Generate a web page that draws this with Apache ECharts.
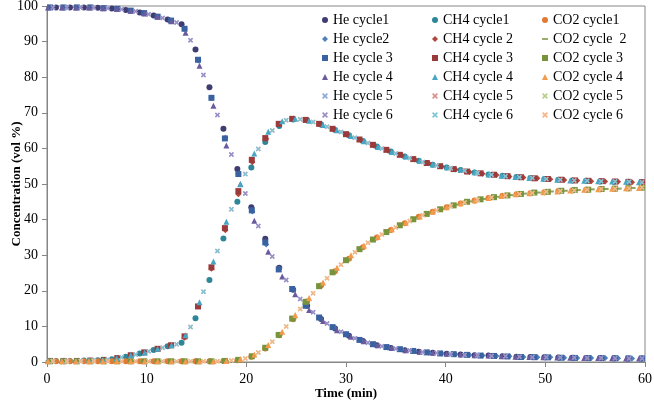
<!DOCTYPE html>
<html>
<head>
<meta charset="utf-8">
<script src="https://cdn.jsdelivr.net/npm/echarts@6/dist/echarts.min.js"></script>
<style>
  html, body { margin: 0; padding: 0; background: #fff; }
  #chart { width: 654px; height: 402px; }
</style>
</head>
<body>
<div id="chart"></div>
<script>
// sampling times (min) for each cycle
const timeCycle1 = [0.9, 2.3, 3.7, 5.1, 6.5, 7.9, 9.3, 10.7, 12.1, 13.5, 14.9, 16.3, 17.7, 19.1, 20.5, 21.9, 23.3, 24.7, 26.1, 27.5, 28.9, 30.3, 31.7, 33.1, 34.5, 35.9, 37.3, 38.7, 40.1, 41.5, 42.9, 44.3, 45.7, 47.1, 48.5, 49.9, 51.3, 52.7, 54.1, 55.5, 56.9, 58.3, 59.7];
const timeCycle2 = [0.2, 1.6, 2.9, 4.3, 5.6, 7.0, 8.4, 9.7, 11.1, 12.4, 13.8, 15.2, 16.5, 17.9, 19.2, 20.6, 22.0, 23.3, 24.7, 26.0, 27.4, 28.8, 30.1, 31.5, 32.8, 34.2, 35.6, 36.9, 38.3, 39.6, 41.0, 42.4, 43.7, 45.1, 46.4, 47.8, 49.2, 50.5, 51.9, 53.2, 54.6, 56.0, 57.3, 58.7];
const timeCycle3 = [0.3, 1.65, 3.0, 4.35, 5.7, 7.05, 8.4, 9.75, 11.1, 12.45, 13.8, 15.15, 16.5, 17.85, 19.2, 20.55, 21.9, 23.25, 24.6, 25.95, 27.3, 28.65, 30.0, 31.35, 32.7, 34.05, 35.4, 36.75, 38.1, 39.45, 40.8, 42.15, 43.5, 44.85, 46.2, 47.55, 48.9, 50.25, 51.6, 52.95, 54.3, 55.65, 57.0, 58.35, 59.7];
const timeCycle4 = [0.1, 1.5, 2.9, 4.2, 5.6, 7.0, 8.4, 9.8, 11.1, 12.5, 13.9, 15.3, 16.7, 18.0, 19.4, 20.8, 22.2, 23.6, 24.9, 26.3, 27.7, 29.1, 30.5, 31.8, 33.2, 34.6, 36.0, 37.4, 38.7, 40.1, 41.5, 42.9, 44.3, 45.6, 47.0, 48.4, 49.8, 51.2, 52.5, 53.9, 55.3, 56.7, 58.1, 59.4];
const timeCycle56 = [0.6, 2.0, 3.4, 4.7, 6.1, 7.5, 8.9, 10.2, 11.6, 13.0, 14.4, 15.7, 17.1, 18.5, 19.9, 21.2, 22.6, 24.0, 25.4, 26.7, 28.1, 29.5, 30.9, 32.2, 33.6, 35.0, 36.4, 37.7, 39.1, 40.5, 41.9, 43.2, 44.6, 46.0, 47.4, 48.7, 50.1, 51.5, 52.9, 54.2, 55.6, 57.0, 58.4, 59.7];

// He (vol %)
const heCycle1 = [99.6, 99.6, 99.6, 99.5, 99.3, 98.9, 98.2, 97.3, 96.2, 94.9, 87.8, 77.2, 65.5, 54.2, 43.5, 34.6, 26.5, 20.3, 15.8, 12.1, 9.4, 7.4, 5.9, 4.7, 3.9, 3.3, 2.9, 2.6, 2.3, 2.1, 1.9, 1.8, 1.6, 1.5, 1.4, 1.3, 1.25, 1.2, 1.15, 1.1, 1.05, 1.0, 1.0];
const heCycle2 = [99.6, 99.6, 99.6, 99.6, 99.4, 99.2, 98.7, 98.0, 97.0, 95.9, 93.6, 84.7, 74.2, 63.0, 52.8, 42.3, 33.0, 26.2, 20.2, 15.9, 12.3, 9.6, 7.7, 6.1, 5.0, 4.1, 3.5, 3.0, 2.6, 2.4, 2.2, 2.0, 1.8, 1.7, 1.6, 1.4, 1.35, 1.3, 1.2, 1.15, 1.1, 1.1, 1.05, 1.0];
const heCycle3 = [99.6, 99.6, 99.6, 99.6, 99.4, 99.2, 98.7, 98.0, 97.0, 95.9, 93.6, 84.9, 74.2, 62.8, 52.8, 42.6, 33.6, 26.0, 20.5, 15.8, 12.5, 9.8, 7.8, 6.2, 5.0, 4.2, 3.6, 3.1, 2.7, 2.4, 2.2, 2.0, 1.8, 1.7, 1.55, 1.4, 1.35, 1.3, 1.2, 1.15, 1.1, 1.1, 1.05, 1.0, 1.0];
const heCycle4 = [99.6, 99.6, 99.6, 99.6, 99.4, 99.2, 98.7, 97.9, 97.0, 95.7, 92.5, 83.2, 72.0, 60.8, 50.0, 39.7, 31.0, 24.0, 19.0, 14.6, 11.5, 8.9, 7.1, 5.8, 4.7, 3.9, 3.3, 2.9, 2.6, 2.3, 2.1, 1.9, 1.8, 1.6, 1.5, 1.4, 1.3, 1.25, 1.2, 1.15, 1.1, 1.05, 1.0, 1.0];
const heCycle56 = [99.6, 99.6, 99.6, 99.5, 99.4, 99.1, 98.5, 97.7, 96.6, 95.4, 90.4, 80.6, 69.4, 58.3, 47.3, 38.2, 29.6, 23.0, 17.7, 14.0, 10.8, 8.5, 6.7, 5.4, 4.4, 3.7, 3.2, 2.8, 2.5, 2.2, 2.0, 1.9, 1.7, 1.6, 1.45, 1.35, 1.3, 1.25, 1.2, 1.15, 1.1, 1.05, 1.0, 1.0];

// CH4 (vol %)
const ch4Cycle1 = [0.3, 0.3, 0.4, 0.5, 0.8, 1.5, 2.4, 3.4, 4.4, 5.4, 12.3, 23.0, 34.7, 45.0, 54.6, 61.8, 66.3, 68.1, 67.9, 66.7, 65.2, 63.7, 62.1, 60.5, 59.1, 57.7, 56.5, 55.4, 54.6, 53.9, 53.2, 52.7, 52.3, 52.0, 51.7, 51.4, 51.2, 51.0, 50.9, 50.7, 50.6, 50.6, 50.5];
const ch4Cycle2 = [0.3, 0.3, 0.3, 0.4, 0.6, 1.0, 1.8, 2.6, 3.7, 4.6, 6.8, 15.7, 26.2, 37.0, 47.1, 56.1, 62.7, 66.8, 68.3, 67.9, 66.7, 65.3, 63.9, 62.3, 60.8, 59.4, 58.1, 56.9, 55.8, 54.9, 54.1, 53.4, 52.9, 52.5, 52.1, 51.8, 51.6, 51.3, 51.1, 51.0, 50.8, 50.7, 50.6, 50.5];
const ch4Cycle3 = [0.3, 0.3, 0.3, 0.4, 0.6, 1.1, 1.9, 2.7, 3.7, 4.7, 7.2, 15.6, 26.6, 37.6, 48.0, 56.8, 62.9, 66.9, 68.3, 68.0, 66.9, 65.5, 64.0, 62.5, 61.0, 59.6, 58.2, 57.0, 55.9, 55.0, 54.2, 53.5, 53.0, 52.6, 52.2, 51.9, 51.6, 51.4, 51.2, 51.0, 50.9, 50.8, 50.7, 50.6, 50.5];
const ch4Cycle4 = [0.3, 0.3, 0.3, 0.4, 0.6, 1.1, 1.9, 2.7, 3.7, 4.7, 7.5, 16.8, 28.2, 39.4, 49.9, 58.6, 64.7, 67.6, 68.3, 67.8, 66.6, 65.1, 63.5, 62.0, 60.4, 59.0, 57.7, 56.5, 55.5, 54.7, 53.9, 53.3, 52.7, 52.3, 52.0, 51.7, 51.5, 51.2, 51.0, 50.9, 50.8, 50.7, 50.6, 50.5];
const ch4Cycle56 = [0.3, 0.3, 0.3, 0.5, 0.7, 1.3, 2.1, 3.0, 4.0, 5.0, 9.8, 19.7, 31.2, 42.9, 52.8, 59.8, 65.0, 67.9, 68.2, 67.4, 66.1, 64.6, 63.0, 61.5, 60.0, 58.6, 57.3, 56.2, 55.2, 54.4, 53.7, 53.1, 52.6, 52.2, 51.9, 51.7, 51.4, 51.2, 51.0, 50.9, 50.8, 50.7, 50.6, 50.5];

// CO2 (vol %)
const co2Cycle1 = [0.2, 0.2, 0.2, 0.2, 0.2, 0.2, 0.2, 0.2, 0.2, 0.2, 0.2, 0.2, 0.3, 0.5, 1.5, 3.8, 7.5, 12.0, 17.0, 21.5, 25.5, 29.0, 32.2, 35.0, 37.1, 39.0, 40.8, 42.2, 43.5, 44.5, 45.4, 46.1, 46.7, 47.1, 47.4, 47.7, 48.0, 48.2, 48.4, 48.5, 48.7, 48.8, 49.0];
const co2Cycle2 = [0.2, 0.2, 0.2, 0.2, 0.2, 0.2, 0.2, 0.2, 0.2, 0.2, 0.2, 0.2, 0.2, 0.3, 0.6, 1.6, 4.2, 7.7, 12.4, 17.0, 21.4, 25.5, 28.8, 32.0, 34.5, 36.7, 38.6, 40.3, 41.8, 43.0, 44.2, 45.1, 45.8, 46.4, 46.9, 47.3, 47.6, 47.9, 48.1, 48.3, 48.5, 48.6, 48.7, 48.9];
const co2Cycle3 = [0.2, 0.2, 0.2, 0.2, 0.2, 0.2, 0.2, 0.2, 0.2, 0.2, 0.2, 0.2, 0.2, 0.3, 0.6, 1.6, 4.0, 7.6, 12.2, 16.9, 21.3, 25.2, 28.6, 31.7, 34.4, 36.5, 38.4, 40.1, 41.6, 42.9, 44.0, 45.0, 45.7, 46.3, 46.8, 47.2, 47.6, 47.8, 48.1, 48.3, 48.4, 48.6, 48.7, 48.8, 49.0];
const co2Cycle4 = [0.2, 0.2, 0.2, 0.2, 0.2, 0.2, 0.2, 0.2, 0.2, 0.2, 0.2, 0.2, 0.2, 0.3, 0.8, 2.1, 4.8, 8.5, 13.2, 18.0, 22.3, 26.5, 30.0, 32.7, 35.2, 37.3, 39.1, 40.9, 42.2, 43.5, 44.6, 45.4, 46.1, 46.6, 47.1, 47.4, 47.7, 47.9, 48.2, 48.4, 48.5, 48.7, 48.8, 48.9];
const co2Cycle56 = [0.2, 0.2, 0.2, 0.2, 0.2, 0.2, 0.2, 0.2, 0.2, 0.2, 0.2, 0.2, 0.2, 0.4, 1.0, 2.7, 5.7, 10.0, 14.9, 19.3, 23.5, 27.3, 30.8, 33.5, 35.8, 37.8, 39.6, 41.2, 42.6, 43.8, 44.8, 45.6, 46.2, 46.8, 47.2, 47.5, 47.8, 48.0, 48.2, 48.4, 48.6, 48.7, 48.8, 49.0];

const xTicks = [0, 10, 20, 30, 40, 50, 60];
const yTicks = [0, 10, 20, 30, 40, 50, 60, 70, 80, 90, 100];

const FONT = 'Liberation Serif';
const CROSS = 'path://M0,2L2,0L5,3L8,0L10,2L7,5L10,8L8,10L5,7L2,10L0,8L3,5Z';
const DASH = 'path://M0,0H10V3H0Z';

function makeSeries(name, times, values, symbol, size, color) {
  return {
    name: name,
    type: 'scatter',
    symbol: symbol,
    symbolSize: size,
    itemStyle: { color: color, opacity: 1 },
    data: times.map((t, i) => [t, values[i]]),
    animation: false
  };
}

const series = [
  makeSeries('He cycle1', timeCycle1, heCycle1, 'circle', 6, '#3f3c72'),
  makeSeries('CH4 cycle1', timeCycle1, ch4Cycle1, 'circle', 6, '#2e8799'),
  makeSeries('CO2 cycle1', timeCycle1, co2Cycle1, 'circle', 6, '#e07a35'),
  makeSeries('He cycle2', timeCycle2, heCycle2, 'diamond', 6, '#4f81bd'),
  makeSeries('CH4 cycle 2', timeCycle2, ch4Cycle2, 'diamond', 6, '#b0463c'),
  makeSeries('CO2 cycle  2', timeCycle2, co2Cycle2, DASH, [7, 2], '#8fa35e'),
  makeSeries('He cycle 3', timeCycle3, heCycle3, 'rect', 6, '#3b62a0'),
  makeSeries('CH4 cycle 3', timeCycle3, ch4Cycle3, 'rect', 6, '#9b3a3a'),
  makeSeries('CO2 cycle 3', timeCycle3, co2Cycle3, 'rect', 6, '#77933c'),
  makeSeries('He cycle 4', timeCycle4, heCycle4, 'triangle', 6, '#6b5b9e'),
  makeSeries('CH4 cycle 4', timeCycle4, ch4Cycle4, 'triangle', 6, '#45a7c4'),
  makeSeries('CO2 cycle 4', timeCycle4, co2Cycle4, 'triangle', 6, '#f39a4c'),
  makeSeries('He cycle 5', timeCycle56, heCycle56, CROSS, 5, '#8ea9db'),
  makeSeries('CH4 cycle 5', timeCycle56, ch4Cycle56, CROSS, 5, '#d9918f'),
  makeSeries('CO2 cycle 5', timeCycle56, co2Cycle56, CROSS, 5, '#b9cf8d'),
  makeSeries('He cycle 6', timeCycle56, heCycle56, CROSS, 5, '#9c8fc4'),
  makeSeries('CH4 cycle 6', timeCycle56, ch4Cycle56, CROSS, 5, '#7fc5d8'),
  makeSeries('CO2 cycle 6', timeCycle56, co2Cycle56, CROSS, 5, '#f8b58a')
];

const heNames = ['He cycle1', 'He cycle2', 'He cycle 3', 'He cycle 4', 'He cycle 5', 'He cycle 6'];
const ch4Names = ['CH4 cycle1', 'CH4 cycle 2', 'CH4 cycle 3', 'CH4 cycle 4', 'CH4 cycle 5', 'CH4 cycle 6'];
const co2Names = ['CO2 cycle1', 'CO2 cycle  2', 'CO2 cycle 3', 'CO2 cycle 4', 'CO2 cycle 5', 'CO2 cycle 6'];

function makeLegend(names, left) {
  return {
    data: names,
    orient: 'vertical',
    left: left,
    top: 8,
    itemWidth: 6,
    itemHeight: 6,
    itemGap: 5,
    selectedMode: false,
    textStyle: { fontFamily: FONT, fontSize: 14, color: '#000', lineHeight: 14 }
  };
}

const chart = echarts.init(document.getElementById('chart'), null, { renderer: 'canvas' });
chart.setOption({
  backgroundColor: '#fff',
  animation: false,
  textStyle: { fontFamily: FONT },
  grid: {
    left: 47, right: 9, top: 6, bottom: 40,
    outerBoundsMode: 'none',
    containLabel: false,
    show: true, borderColor: '#868686', borderWidth: 1, backgroundColor: 'transparent'
  },
  legend: [makeLegend(heNames, 317), makeLegend(ch4Names, 427), makeLegend(co2Names, 537)],
  xAxis: {
    type: 'value',
    min: xTicks[0], max: xTicks[xTicks.length - 1], interval: 10,
    name: 'Time (min)',
    nameLocation: 'middle',
    nameGap: 25,
    nameMoveOverlap: false,
    nameTextStyle: { fontFamily: FONT, fontSize: 13, fontWeight: 'bold', color: '#000' },
    axisLine: { show: true, lineStyle: { color: '#868686', width: 1 } },
    axisTick: { show: true, inside: false, length: 5, lineStyle: { color: '#868686' } },
    axisLabel: { fontFamily: FONT, fontSize: 14, fontWeight: 'normal', color: '#000', margin: 10 },
    splitLine: { show: false }
  },
  yAxis: {
    type: 'value',
    min: yTicks[0], max: yTicks[yTicks.length - 1], interval: 10,
    name: 'Concentration (vol %)',
    nameLocation: 'middle',
    nameGap: 24,
    nameMoveOverlap: false,
    nameTextStyle: { fontFamily: FONT, fontSize: 13, fontWeight: 'bold', color: '#000' },
    axisLine: { show: true, lineStyle: { color: '#868686', width: 1 } },
    axisTick: { show: true, inside: false, length: 5, lineStyle: { color: '#868686' } },
    axisLabel: { fontFamily: FONT, fontSize: 14, fontWeight: 'normal', color: '#000', margin: 9 },
    splitLine: { show: false }
  },
  series: series
});
</script>
</body>
</html>
